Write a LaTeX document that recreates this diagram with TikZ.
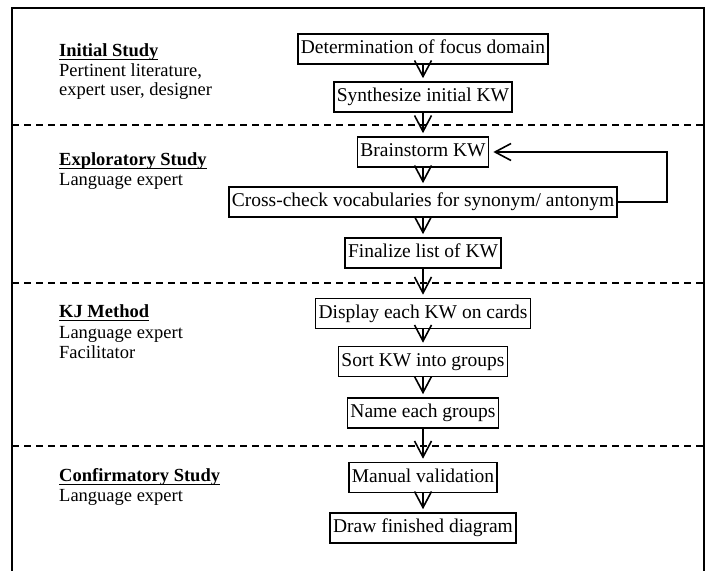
\documentclass[tikz,border=0pt]{standalone}
\usepackage{fontspec}
\setmainfont{Liberation Serif}
\usetikzlibrary{arrows.meta}
\newcommand\headul[1]{\setbox0\hbox{\bfseries #1}\rlap{\rule[-3.8pt]{\wd0}{1.8pt}}\box0}
\begin{document}
\begin{tikzpicture}[x=1pt,y=-1pt,
  stepbox/.style={draw, line width=1.6pt, inner xsep=3pt, inner ysep=0pt,
    minimum height=30pt, font=\fontsize{19.5}{20}\selectfont,
    text height=13.5pt, text depth=4.5pt},
  flow/.style={line width=1.6pt, -{Straight Barb[length=16pt,width=17pt]}, shorten >=3pt},
  sep/.style={line width=1.6pt, dash pattern=on 7pt off 5pt},
  role/.style={anchor=base west, inner sep=0pt, font=\fontsize{18.5}{20}\selectfont}]
\useasboundingbox (0,0) rectangle (711,570);
\fill[white] (0,0) rectangle (711,570);
% frame
\coordinate (fbl) at (12,580);
\coordinate (ftl) at (12,8);
\coordinate (ftr) at (704,8);
\coordinate (fbr) at (704,580);
\draw[line width=2pt] (fbl) -- (ftl) -- (ftr) -- (fbr);
% separators
\coordinate (d1l) at (12,125);  \coordinate (d1r) at (704,125);
\coordinate (d2l) at (12,283);  \coordinate (d2r) at (704,283);
\coordinate (d3l) at (12,446);  \coordinate (d3r) at (704,446);
\draw[sep] (d1l) -- (d1r);
\draw[sep] (d2l) -- (d2r);
\draw[sep] (d3l) -- (d3r);
% flow boxes
\node[stepbox] (det)   at (423,49)    {Determination of focus domain};
\node[stepbox] (syn)   at (423,97)    {Synthesize initial KW};
\node[stepbox] (brain) at (423,152)   {Brainstorm KW};
\node[stepbox] (cross) at (423,202)   {Cross-check vocabularies for synonym/ antonym};
\node[stepbox] (fin)   at (423,253)   {Finalize list of KW};
\node[stepbox] (disp)  at (423,313.5) {Display each KW on cards};
\node[stepbox] (sort)  at (423,361.5) {Sort KW into groups};
\node[stepbox] (name)  at (423,413)   {Name each groups};
\node[stepbox] (man)   at (423,477.5) {Manual validation};
\node[stepbox] (fdraw) at (423,528)   {Draw finished diagram};
% arrows
\draw[flow] (det) -- (syn);
\draw[flow] (syn) -- (brain);
\draw[flow] (brain) -- (cross);
\draw[flow] (cross) -- (fin);
\draw[flow] (fin) -- (disp);
\draw[flow] (disp) -- (sort);
\draw[flow] (sort) -- (name);
\draw[flow] (name) -- (man);
\draw[flow] (man) -- (fdraw);
\coordinate (loopc) at (667,152);
\draw[flow, shorten >=4pt] (cross.east) -| (loopc) -- (brain.east);
% left labels
\node[role] (h1)  at (59,56.5)  {\headul{Initial Study}};
\node[role] (h1a) at (59,76)    {Pertinent literature,};
\node[role] (h1b) at (59,95.5)  {expert user, designer};
\node[role] (h2)  at (59,165.5) {\headul{Exploratory Study}};
\node[role] (h2a) at (59,185)   {Language expert};
\node[role] (h3)  at (59,317.5) {\headul{KJ Method}};
\node[role] (h3a) at (59,338)   {Language expert};
\node[role] (h3b) at (59,358)   {Facilitator};
\node[role] (h4)  at (59,481.5) {\headul{Confirmatory Study}};
\node[role] (h4a) at (59,501)   {Language expert};
\end{tikzpicture}
\end{document}
